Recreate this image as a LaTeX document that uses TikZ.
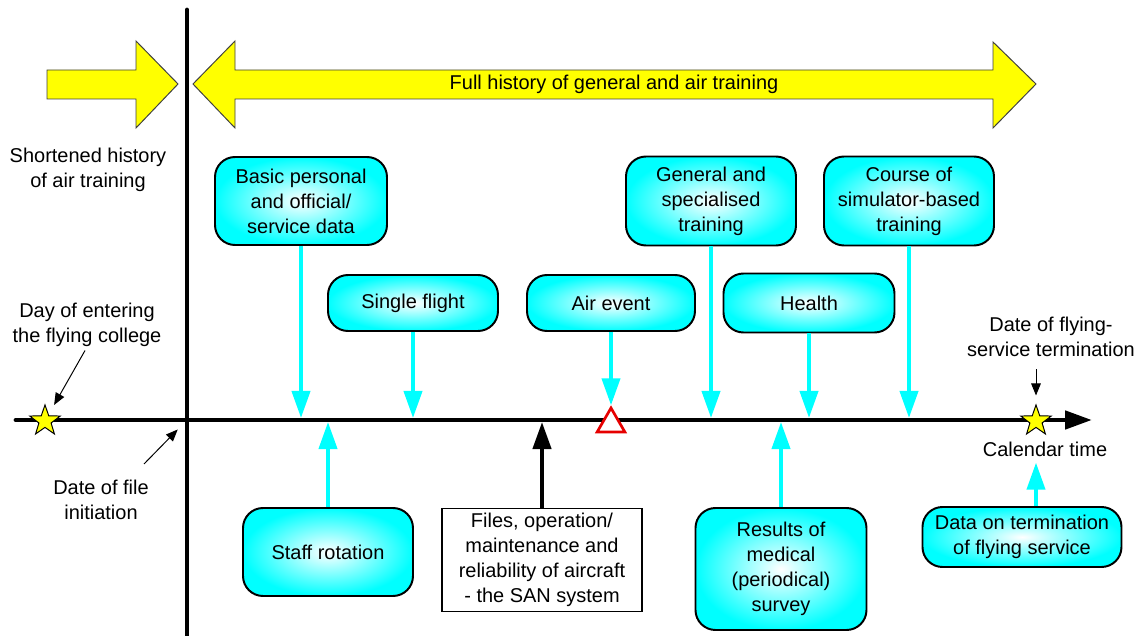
\documentclass[tikz,border=0pt]{standalone}
\usepackage{fontspec}
\setmainfont{Liberation Sans}
\usetikzlibrary{arrows.meta,shapes.geometric,positioning}
\definecolor{aqua}{RGB}{0,255,255}
\definecolor{lemon}{RGB}{255,255,0}
\definecolor{alarm}{RGB}{230,0,0}

\begin{document}
\begin{tikzpicture}[x=0.025cm, y=-0.025cm,
	every node/.style={font=\fontsize{14.2pt}{17.7pt}\selectfont, align=center, inner sep=0pt},
	event/.style 2 args={draw, line width=1.4pt, rounded corners=0.5cm, inner color=white, outer color=aqua, minimum width=#1*0.025cm, minimum height=#2*0.025cm},
	sanbox/.style 2 args={draw, line width=1.4pt, fill=white, minimum width=#1*0.025cm, minimum height=#2*0.025cm},
	bigarrow/.style={draw=black!75, line width=0.7pt, fill=lemon},
	datestar/.style={star, star points=5, star point ratio=2.5, draw, line width=0.7pt, fill=lemon, minimum size=0.8cm},
	feed/.style={line width=2.8pt, aqua, -{Triangle[length=0.675cm, width=0.45cm]}},
	pointer/.style={line width=0.7pt, -{Triangle[length=0.3cm, width=0.24cm]}}]

	\useasboundingbox (0,0) rectangle (1134,636);

	\draw[bigarrow] (47,70)--(136,70)--(136,41)--(178,84)--(136,128)--(136,99)--(47,99)--cycle;
	\draw[bigarrow] (193,84)--(235,41)--(235,70)--(993,70)--(993,42)--(1036,84)--(993,128)--(993,99)--(235,99)--(235,128)--cycle;
	\node (full) at (614,84) {Full history of general and air training};

	\coordinate (origin) at (187,420);
	\coordinate (axtop) at (0,418);
	\coordinate (axbot) at (0,422);

	\draw[line width=3.4pt, line cap=round] (187,10) -- (187,636);
	\draw[line width=3.4pt, line cap=round, -{Triangle[length=0.675cm, width=0.45cm]}] (16,420) -- (1092,420);

	\node[datestar] (entry) at (45,421) {};
	\node[datestar] (leave) at (1036,421) {};
	\node[regular polygon, regular polygon sides=3, draw=alarm, line width=1.9pt, fill=white, minimum size=0.8cm] (evt) at (611,424) {};

	\node (short) at (88,170) {Shortened history\\of air training};
	\node (entering) at (87,325) {Day of entering\\the flying college};
	\node (init) at (101,500) {Date of file\\initiation};
	\node (term) at (1051,337) {Date of flying-\\service termination};
	\node (cal) at (1045,449) {Calendar time};
	\coordinate (calpt) at ([yshift=-0.15cm]cal.south);

	\node[event={172}{88}] (basic) at (301,201) {Basic personal\\and official/\\service data};
	\node[event={170}{56}] (single) at (413,303) {Single flight};
	\node[event={168}{56}] (air) at (611,303) {Air event};
	\node[event={170}{89}] (general) at (711,201) {General and\\specialised\\training};
	\node[event={171}{59}] (health) at (809,303) {Health};
	\node[event={170}{89}] (course) at (909,201) {Course of\\simulator-based\\training};
	\node[event={170}{88}] (staff) at (328,552) {Staff rotation};
	\node[sanbox={200}{103}] (files) at (542,560) {Files, operation/\\maintenance and\\reliability of aircraft\\- the SAN system};
	\node[event={171}{122}] (results) at (781,569) {Results of\\medical\\(periodical)\\survey};
	\node[event={199}{60}] (data) at (1022,537) {Data on termination\\of flying service};

	\foreach \b in {basic,single,general,health,course}
		\draw[feed] (\b.south) -- (\b.south |- axtop);
	\draw[feed] (air.south) -- (evt.north);
	\foreach \b in {staff,results}
		\draw[feed] (\b.north) -- (\b.north |- axbot);
	\draw[feed, black, line width=3pt] (files.north) -- (files.north |- axbot);
	\draw[feed] (data.north -| leave) -- (calpt -| leave);

	\draw[pointer, shorten <=0.1cm, shorten >=0.46cm] (entering.south) -- (entry.center);
	\draw[pointer, shorten >=0.33cm] ([shift={(-43,44)}]origin) -- (origin);
	\draw[pointer, shorten <=0.3cm, shorten >=0.2cm] (term.south -| leave) -- (leave.north);

\end{tikzpicture}
\end{document}
